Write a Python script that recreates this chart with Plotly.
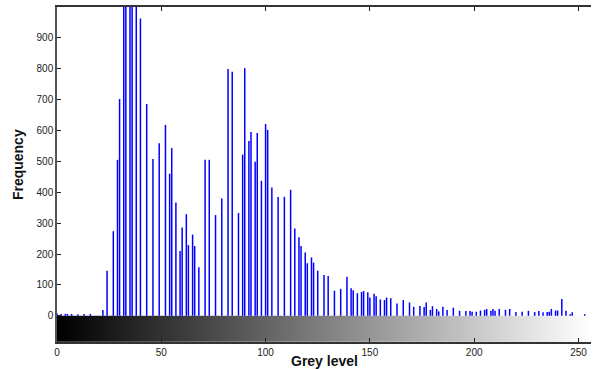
import plotly.graph_objects as go

# Grey-level histogram (bin -> frequency); values above 1000 are clipped in the reference
grey_levels = [0, 2, 4, 5, 7, 10, 13, 16, 22, 24, 27, 29, 30, 32, 33, 35, 36, 38, 40, 43,
               46, 49, 52, 54, 55, 57, 59, 60, 62, 63, 65, 66, 68, 71, 73, 76, 79, 82, 84, 87,
               89, 90, 92, 93, 95, 96, 98, 100, 101, 103, 106, 109, 112, 114, 116, 117, 119, 120, 122, 123,
               125, 128, 130, 133, 136, 139, 141, 142, 144, 146, 147, 149, 150, 152, 153, 155, 157, 158, 160, 163,
               166, 169, 171, 174, 176, 177, 179, 180, 182, 183, 185, 187, 190, 193, 196, 198, 199, 201, 203, 205,
               206, 208, 209, 210, 212, 215, 217, 220, 223, 226, 229, 231, 233, 235, 236, 237, 239, 240, 242, 244,
               246, 247, 253]
frequency = [7, 6, 6, 6, 6, 5, 6, 6, 19, 146, 274, 505, 702, 1150, 1600, 1900, 1700, 1300, 963, 686,
             508, 559, 618, 460, 543, 367, 210, 286, 329, 229, 263, 226, 157, 505, 505, 326, 380, 799, 790, 333,
             522, 802, 566, 595, 499, 592, 437, 621, 602, 415, 385, 385, 408, 283, 254, 226, 205, 170, 189, 172,
             146, 132, 129, 81, 87, 126, 89, 83, 73, 77, 80, 76, 59, 71, 63, 53, 51, 59, 57, 40,
             51, 43, 29, 32, 28, 43, 19, 31, 22, 14, 29, 19, 26, 16, 15, 15, 13, 13, 17, 19,
             22, 16, 22, 16, 22, 19, 22, 12, 13, 16, 12, 15, 11, 12, 13, 22, 17, 17, 54, 16,
             5, 11, 5]

x_ticks = [0, 50, 100, 150, 200, 250]
y_ticks = [0, 100, 200, 300, 400, 500, 600, 700, 800, 900]

# colour bar (grey ramp 0..255) under the histogram
ramp_edges = list(range(257))
ramp_values = [list(range(256))]
ramp_y_edges = [-85, 0]

xs, ys = [], []
for g, f in zip(grey_levels, frequency):
    xs += [g, g, None]
    ys += [0, f, None]

fig = go.Figure()
fig.add_trace(go.Heatmap(x=ramp_edges, y=ramp_y_edges, z=ramp_values,
                         colorscale=[[0, "#000000"], [1, "#ffffff"]],
                         zmin=0, zmax=255, showscale=False, hoverinfo="skip"))
fig.add_trace(go.Scatter(x=xs, y=ys, mode="lines",
                         line=dict(color="rgb(0,0,255)", width=1.5),
                         showlegend=False, hoverinfo="skip"))

font_fam = "Liberation Sans, Arial, sans-serif"
fig.update_layout(
    template="none",
    width=605, height=369,
    margin=dict(l=57, r=14, t=7, b=27),
    paper_bgcolor="white", plot_bgcolor="white",
    font=dict(family=font_fam, size=10, color="#222"),
    showlegend=False,
    xaxis=dict(range=[0, 256], tickvals=x_ticks, ticks="inside", ticklen=4,
               tickcolor="#222", showline=True, linecolor="#333", linewidth=1.5,
               mirror="ticks", showgrid=False, zeroline=False, automargin=False,
               tickfont=dict(size=10, color="#222")),
    yaxis=dict(range=[-85, 1000], tickvals=y_ticks, ticks="inside", ticklen=4,
               tickcolor="#222", showline=True, linecolor="#555", linewidth=1.5,
               mirror=False, showgrid=False, zeroline=False, automargin=False,
               tickfont=dict(size=10, color="#222")),
    annotations=[
        dict(text="<b>Grey level</b>", xref="paper", yref="paper", x=0.5, y=0,
             yshift=-19, xanchor="center", yanchor="middle", showarrow=False,
             font=dict(size=14, color="#111", family=font_fam)),
        dict(text="<b>Frequency</b>", xref="paper", yref="paper", x=0, y=0.528,
             xshift=-39, xanchor="center", yanchor="middle", textangle=-90,
             showarrow=False, font=dict(size=14, color="#111", family=font_fam)),
    ],
)

fig.write_html("out.html", config={"displayModeBar": False},
               post_script="document.body.style.margin='0';")
